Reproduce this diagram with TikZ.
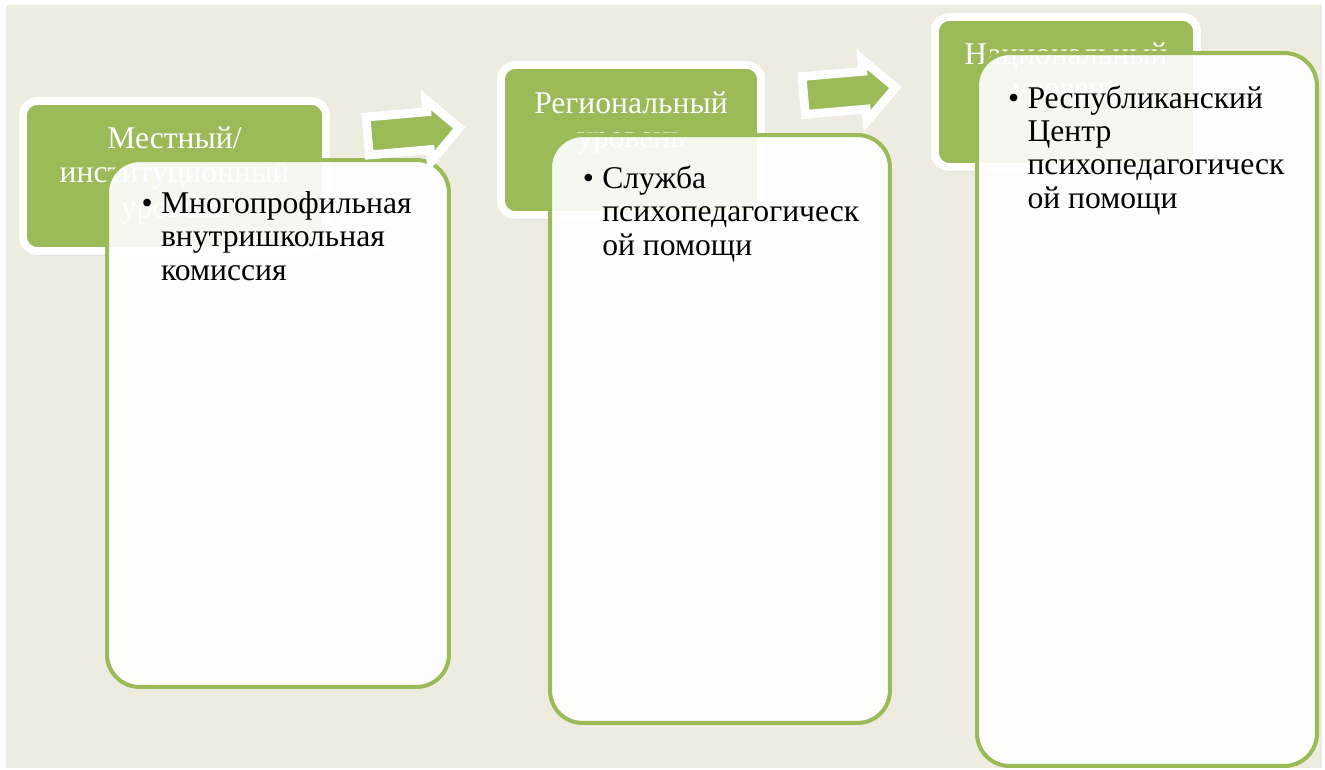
\documentclass[tikz,border=0pt]{standalone}
\usepackage{fontspec}
\setmainfont{Liberation Serif}
\usetikzlibrary{positioning,shadows}
\definecolor{olive}{HTML}{9BBB59}
\definecolor{paper}{HTML}{EEECE1}
\begin{document}
\begin{tikzpicture}[x=0.02cm, y=-0.02cm,
    level/.style ={rectangle, rounded corners=0.28cm, fill=olive, draw=white, line width=4.5pt,
                   minimum height=3cm, inner sep=0pt,
                   drop shadow={shadow xshift=1pt, shadow yshift=-2.5pt, opacity=.25}},
    leveltext/.style ={text=white, font=\fontsize{18}{19.5}\selectfont, inner sep=0pt},
    content/.style ={rectangle, rounded corners=0.65cm, fill=white, fill opacity=0.9,
                     draw=olive, line width=2.3pt, minimum width=6.8cm, inner sep=0pt},
    item/.style ={font=\fontsize{18}{19}\selectfont, inner sep=0pt},
    flow/.style ={fill=olive, draw=white, line width=5pt,
                  drop shadow={shadow xshift=1pt, shadow yshift=-2pt, opacity=.25}}]
   % background
   \fill[white] (0,0) rectangle (1325,769);
   \fill[paper] (6,5) rectangle (1322,768);

   % levels
   \node[level, minimum width=6.06cm] (A) at (174.5,176) {};
   \node[level, minimum width=5.2cm]  (B) at (631,140)   {};
   \node[level, minimum width=5.24cm] (C) at (1066,92)   {};
   \node[leveltext, below=15.5pt of A.north] (tA)
      {\begin{tabular}{@{}c@{}}Местный/\\институционный\\уровень\end{tabular}};
   \node[leveltext, below=16pt of B.north] (tB)
      {\begin{tabular}{@{}c@{}}Региональный\\уровень\end{tabular}};
   \node[leveltext, below=15.4pt of C.north] (tC)
      {\begin{tabular}{@{}c@{}}Национальный\\уровень\end{tabular}};

   % contents
   \node[content, minimum width=6.84cm, minimum height=10.54cm] (a) at (278,423.5) {};
   \node[content, minimum height=11.76cm] (b) at (720,429)   {};
   \node[content, minimum height=14.26cm] (c) at (1147,409.5) {};
   \node[item, below right=18pt and 20.7pt of a.north west] (ia)
      {\begin{tabular}{@{}l@{}l@{}}\makebox[11pt][l]{\textbullet} & Многопрофильная\\
        & внутришкольная\\ & комиссия\end{tabular}};
   \node[item, below right=18pt and 19.7pt of b.north west] (ib)
      {\begin{tabular}{@{}l@{}l@{}}\makebox[11pt][l]{\textbullet} & Служба\\
        & психопедагогическ\\ & ой помощи\end{tabular}};
   \node[item, below right=19pt and 18.7pt of c.north west] (ic)
      {\begin{tabular}{@{}l@{}l@{}}\makebox[11pt][l]{\textbullet} & Республиканский\\
        & Центр\\ & психопедагогическ\\ & ой помощи\end{tabular}};

   % arrows
   \coordinate (AB) at (413.5,132);
   \coordinate (BC) at (849.5,91.5);
   \foreach \p in {AB,BC}
      \draw[flow, shift={(\p)}, rotate=5] (-46,-19) -- (15,-19) -- (15,-31) -- (46,0)
         -- (15,31) -- (15,19) -- (-46,19) -- cycle;
\end{tikzpicture}
\end{document}
